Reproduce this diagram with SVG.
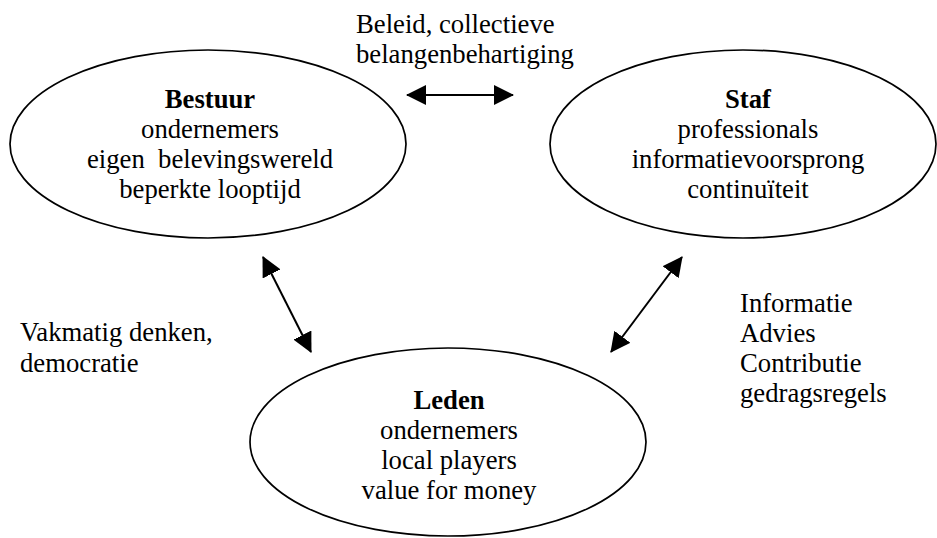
<svg xmlns="http://www.w3.org/2000/svg" width="937" height="538" viewBox="0 0 937 538">
<style>
.shape{fill:#fff;stroke:#000;stroke-width:1.7}
text{font-family:"Liberation Serif","Times New Roman",serif;font-size:26.7px;fill:#000}
.c{text-anchor:middle}
.b{font-weight:bold}
.conn{stroke:#000;stroke-width:2;fill:none;marker-start:url(#ah);marker-end:url(#ah)}
</style>
<defs>
<marker id="ah" markerUnits="userSpaceOnUse" markerWidth="20" markerHeight="20" refX="19" refY="10" orient="auto-start-reverse" viewBox="0 0 20 20">
<path d="M0,0 L20,10 L0,20 z" fill="#000"/>
</marker>
</defs>
<g id="bestuur">
<ellipse class="shape" cx="208" cy="144" rx="198" ry="94"/>
<text class="c b" x="210" y="108">Bestuur</text>
<text class="c" x="210" y="138">ondernemers</text>
<text class="c" x="210" y="168" xml:space="preserve">eigen  belevingswereld</text>
<text class="c" x="210" y="198">beperkte looptijd</text>
</g>
<g id="staf">
<ellipse class="shape" cx="743" cy="144" rx="193" ry="94"/>
<text class="c b" x="748" y="108">Staf</text>
<text class="c" x="748" y="138">professionals</text>
<text class="c" x="748" y="168">informatievoorsprong</text>
<text class="c" x="748" y="198">continuïteit</text>
</g>
<g id="leden">
<ellipse class="shape" cx="448" cy="442" rx="198" ry="94"/>
<text class="c b" x="449" y="409">Leden</text>
<text class="c" x="449" y="439">ondernemers</text>
<text class="c" x="449" y="469">local players</text>
<text class="c" x="449" y="499">value for money</text>
</g>
<g id="connectors">
<line class="conn" x1="407" y1="95" x2="513" y2="95"/>
<line class="conn" x1="263" y1="257" x2="311" y2="352"/>
<line class="conn" x1="682" y1="257" x2="611" y2="352"/>
</g>
<g id="labels">
<text x="356" y="33">Beleid, collectieve</text>
<text x="356" y="63">belangenbehartiging</text>
<text x="20" y="341">Vakmatig denken,</text>
<text x="20" y="372">democratie</text>
<text x="740" y="312">Informatie</text>
<text x="740" y="342">Advies</text>
<text x="740" y="372">Contributie</text>
<text x="740" y="402">gedragsregels</text>
</g>
</svg>
